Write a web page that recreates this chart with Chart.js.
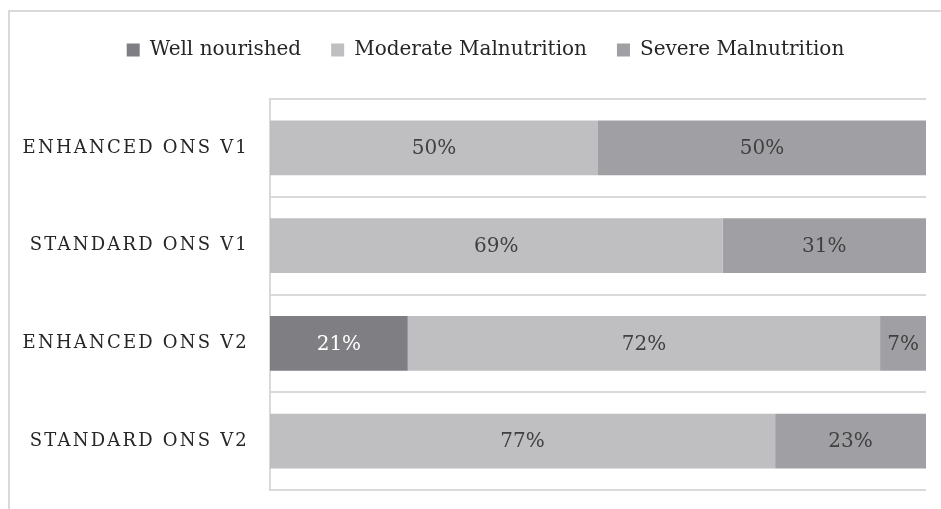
<!DOCTYPE html>
<html>
<head>
<meta charset="utf-8">
<script src="https://cdn.jsdelivr.net/npm/chart.js@4/dist/chart.umd.min.js"></script>
<style>
  html, body { margin: 0; padding: 0; background: #ffffff; }
  #wrap { position: relative; width: 941px; height: 509px; }
</style>
</head>
<body>
<div id="wrap"><canvas id="c" width="941" height="509"></canvas></div>
<script>
// Nutritional status by group and visit (percent of patients)
const categories = ['ENHANCED ONS V1', 'STANDARD ONS V1', 'ENHANCED ONS V2', 'STANDARD ONS V2'];
const wellNourished = [0, 0, 21, 0];
const moderateMalnutrition = [50, 69, 72, 77];
const severeMalnutrition = [50, 31, 7, 23];
const seriesNames = ['Well nourished', 'Moderate Malnutrition', 'Severe Malnutrition'];

const FONT = '"DejaVu Serif", "Liberation Serif", serif';
const LEFT_PAD = 45;

// Light frame around the chart
const framePlugin = {
  id: 'frame',
  beforeDraw(chart) {
    const ctx = chart.ctx;
    ctx.save();
    ctx.strokeStyle = '#d9d9d9';
    ctx.lineWidth = 2;
    ctx.strokeRect(9, 11, 960, 520);
    ctx.restore();
  }
};

// Spaced-out capitals for the category labels, allowed to extend past the axis box
const spacedLabels = {
  id: 'spacedLabels',
  beforeLayout(chart) {
    const s = chart.scales.y;
    if (s && !s._spaced) {
      const orig = s.drawLabels;
      s.drawLabels = function (area) {
        this.ctx.save();
        this.ctx.letterSpacing = '2.2px';
        orig.call(this, area);
        this.ctx.restore();
      };
      s._computeLabelArea = function () { return undefined; };
      s._spaced = true;
    }
  }
};

// Percent labels centred in each segment
const valueLabels = {
  id: 'valueLabels',
  afterDatasetsDraw(chart) {
    const ctx = chart.ctx;
    ctx.save();
    ctx.font = '20px ' + FONT;
    ctx.textAlign = 'center';
    ctx.textBaseline = 'middle';
    chart.data.datasets.forEach((ds, di) => {
      const meta = chart.getDatasetMeta(di);
      meta.data.forEach((bar, i) => {
        const v = ds.data[i];
        if (!v) return;
        const p = bar.getCenterPoint();
        ctx.fillStyle = di === 0 ? '#ffffff' : '#404040';
        ctx.fillText(v + '%', p.x, p.y + 1);
      });
    });
    ctx.restore();
  }
};

new Chart(document.getElementById('c'), {
  type: 'bar',
  data: {
    labels: categories,
    datasets: [
      { label: seriesNames[0], data: wellNourished, backgroundColor: '#7f7f83' },
      { label: seriesNames[1], data: moderateMalnutrition, backgroundColor: '#bfbfc2' },
      { label: seriesNames[2], data: severeMalnutrition, backgroundColor: '#a0a0a4' }
    ]
  },
  options: {
    indexAxis: 'y',
    responsive: false,
    animation: false,
    devicePixelRatio: 1,
    layout: { padding: { left: LEFT_PAD, right: 15, top: 10, bottom: 19 } },
    datasets: { bar: { barPercentage: 0.56, categoryPercentage: 1.0, borderWidth: 0 } },
    plugins: {
      legend: {
        position: 'top',
        labels: {
          font: { family: FONT, size: 20 },
          color: '#262626',
          boxWidth: 13,
          boxHeight: 13,
          padding: 30
        }
      },
      tooltip: { enabled: false }
    },
    scales: {
      x: {
        stacked: true,
        position: 'top',
        min: 0,
        max: 100,
        ticks: { display: false },
        grid: { display: false },
        border: { display: false },
        afterFit(s) { s.height = 29; }
      },
      y: {
        stacked: true,
        ticks: {
          font: { family: FONT, size: 18 },
          color: '#262626',
          padding: 21
        },
        grid: { color: '#d9d9d9', lineWidth: 2, drawTicks: false, offset: true },
        border: { color: '#d9d9d9', width: 2 },
        afterFit(s) {
          s.width = 270 - LEFT_PAD;
          s.paddingTop = 0;
          s.paddingBottom = 0;
        }
      }
    }
  },
  plugins: [framePlugin, spacedLabels, valueLabels]
});
</script>
</body>
</html>
